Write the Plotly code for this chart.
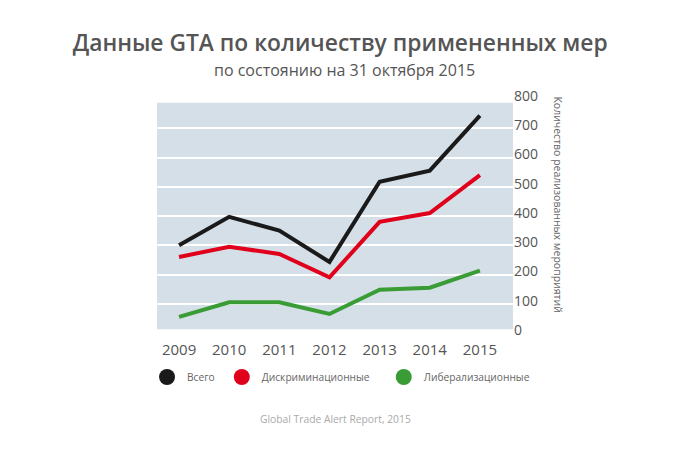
import plotly.graph_objects as go

years = [2009, 2010, 2011, 2012, 2013, 2014, 2015]
total = [300, 397, 350, 243, 517, 555, 743]
discriminatory = [260, 295, 270, 190, 380, 410, 540]
liberalizing = [55, 105, 105, 65, 148, 155, 213]
series_names = ["Всего", "Дискриминационные", "Либерализационные"]
series_colors = ["#1a1a1a", "#e0001b", "#3a9c35"]
y_ticks = [0, 100, 200, 300, 400, 500, 600, 700, 800]

FONT = "Open Sans"
fig = go.Figure()
legends = ["legend", "legend2", "legend3"]
for name, vals, col, lg in zip(series_names, [total, discriminatory, liberalizing], series_colors, legends):
    fig.add_trace(go.Scatter(x=years, y=vals, mode="lines", line=dict(color=col, width=4),
                             showlegend=False, hoverinfo="x+y+name", name=name))
    fig.add_trace(go.Scatter(x=[None], y=[None], mode="markers", name=name, legend=lg,
                             marker=dict(color=col, size=18, symbol="circle")))

fig.add_shape(type="rect", xref="paper", yref="y", x0=0, x1=1, y0=13, y1=787,
              fillcolor="#d4dfe7", line=dict(width=0), layer="below")

legend_common = dict(orientation="h", yref="paper", y=-0.188, yanchor="middle", xanchor="left",
                     bgcolor="rgba(0,0,0,0)", font=dict(family=FONT, size=10.2, color="#666"))
fig.update_layout(
    width=690, height=451,
    margin=dict(l=157, r=177, t=99, b=118, autoexpand=False),
    paper_bgcolor="white", plot_bgcolor="white",
    title=dict(text="Данные GTA по количеству примененных мер", x=0.493, xref="container", xanchor="center",
               y=0.905, yref="container", yanchor="middle",
               font=dict(family=FONT, size=22.8, color="#555", weight=600)),
    xaxis=dict(range=[2008.56, 2015.66], tickvals=years, showgrid=False, zeroline=False,
               showline=False, ticks="", ticklabelstandoff=6,
               tickfont=dict(family=FONT, size=15, color="#555"), fixedrange=True),
    yaxis=dict(range=[0, 800], side="right", tickvals=y_ticks, showgrid=True, gridcolor="white",
               gridwidth=1.5, zeroline=False, showline=False, ticks="", ticklabelshift=-3,
               tickfont=dict(family=FONT, size=14, color="#555"), fixedrange=True),
    legend=dict(x=-0.028, **legend_common),
    legend2=dict(x=0.182, **legend_common),
    legend3=dict(x=0.637, **legend_common),
    annotations=[
        dict(text="по состоянию на 31 октября 2015", xref="paper", yref="paper", x=0.528, y=1.124,
             xanchor="center", yanchor="middle", showarrow=False,
             font=dict(family=FONT, size=16, color="#555")),
        dict(text="Количество реализованных мероприятий", xref="paper", yref="paper", x=1.126, y=0.55,
             xanchor="center", yanchor="middle", textangle=90, showarrow=False,
             font=dict(family=FONT, size=10.5, color="#666")),
        dict(text="Global Trade Alert Report, 2015", xref="paper", yref="paper", x=0.5, y=-0.369,
             xanchor="center", yanchor="middle", showarrow=False,
             font=dict(family=FONT, size=10.3, color="#aaa")),
    ],
)
fig.write_html("out.html", config={"displayModeBar": False},
               post_script="document.body.style.margin='0';document.body.style.overflow='hidden';")
